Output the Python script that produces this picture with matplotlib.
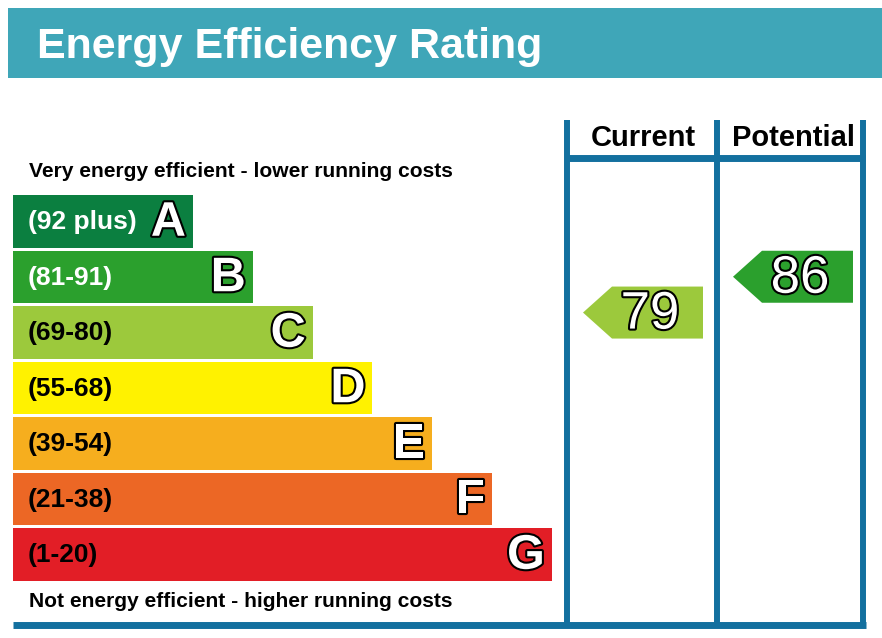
import matplotlib
matplotlib.use("Agg")
import matplotlib.pyplot as plt
import matplotlib.patheffects as pe
from matplotlib.patches import Polygon, Rectangle

plt.rcParams['font.family'] = ['Liberation Sans', 'DejaVu Sans']

# band data
bands = ['A', 'B', 'C', 'D', 'E', 'F', 'G']
ranges = ['(92 plus)', '(81-91)', '(69-80)', '(55-68)', '(39-54)', '(21-38)', '(1-20)']
band_hi = [100, 91, 80, 68, 54, 38, 20]
band_lo = [92, 81, 69, 55, 39, 21, 1]
band_colors = ['#0b7f40', '#2ba02d', '#9cc93c', '#fff200', '#f6ae1e', '#ec6725', '#e21e26']
label_colors = ['white', 'white', 'black', 'black', 'black', 'black', 'black']

current = 79
potential = 86

# layout in pixel units
W, H = 882, 638
top0 = 195
pitch = 55.5
bar_h = 52.5
bar_left = 13
bar_w0 = 180
bar_step = 59.8
line_col = '#13709f'

fig = plt.figure(figsize=(W / 100, H / 100), dpi=100)
ax = fig.add_axes([0, 0, 1, 1])
ax.set_xlim(0, W)
ax.set_ylim(H, 0)
ax.axis('off')

# header
ax.add_patch(Rectangle((8, 8), W - 8, 70, color='#3fa6b8', lw=0))
ax.text(37, 58, 'Energy Efficiency Rating', color='white', fontsize=31,
        fontweight='bold', va='baseline', ha='left')

# bars
for i, b in enumerate(bands):
    top = top0 + i * pitch
    w = bar_w0 + i * bar_step
    ax.barh(top + bar_h / 2, w, height=bar_h, left=bar_left,
            color=band_colors[i], lw=0)
    ax.text(28, top + bar_h / 2 + 1, ranges[i], color=label_colors[i],
            fontsize=19, fontweight='bold', va='center', ha='left')
    t = ax.text(bar_left + w - 7, top + bar_h / 2 + 2, b, color='white',
                fontsize=35, fontweight='bold', va='center', ha='right')
    t.set_path_effects([pe.withStroke(linewidth=3, foreground='black')])

ax.text(29, 177, 'Very energy efficient - lower running costs', fontsize=15.1,
        fontweight='bold', va='baseline', ha='left')
ax.text(29, 607, 'Not energy efficient - higher running costs', fontsize=15.1,
        fontweight='bold', va='baseline', ha='left')

# columns
for x in [567, 717, 863]:
    ax.plot([x, x], [120, 628], color=line_col, lw=4.3, solid_capstyle='butt')
ax.plot([565, 865], [158, 158], color=line_col, lw=5, solid_capstyle='butt')
ax.plot([13, 866], [625, 625], color=line_col, lw=5, solid_capstyle='butt')
ax.text(643, 146, 'Current', fontsize=21, fontweight='bold', va='baseline', ha='center')
ax.text(794, 146, 'Potential', fontsize=21, fontweight='bold', va='baseline', ha='center')


def band_of(v):
    for i in range(len(bands)):
        if band_lo[i] <= v <= band_hi[i]:
            return i
    return len(bands) - 1


def arrow(v, x0):
    i = band_of(v)
    frac = (band_hi[i] - v + 0.5) / (band_hi[i] - band_lo[i] + 1)
    yc = top0 + i * pitch + frac * bar_h
    h = 52
    pts = [(x0, yc), (x0 + 29, yc - h / 2), (x0 + 120, yc - h / 2),
           (x0 + 120, yc + h / 2), (x0 + 29, yc + h / 2)]
    ax.add_patch(Polygon(pts, closed=True, color=band_colors[i], lw=0))
    t = ax.text(x0 + 67, yc + 2, str(v), color='white', fontsize=38,
                va='center', ha='center')
    t.set_path_effects([pe.withStroke(linewidth=3, foreground='black')])


arrow(current, 583)
arrow(potential, 733)

fig.savefig('out.png', dpi=100, facecolor='white')
